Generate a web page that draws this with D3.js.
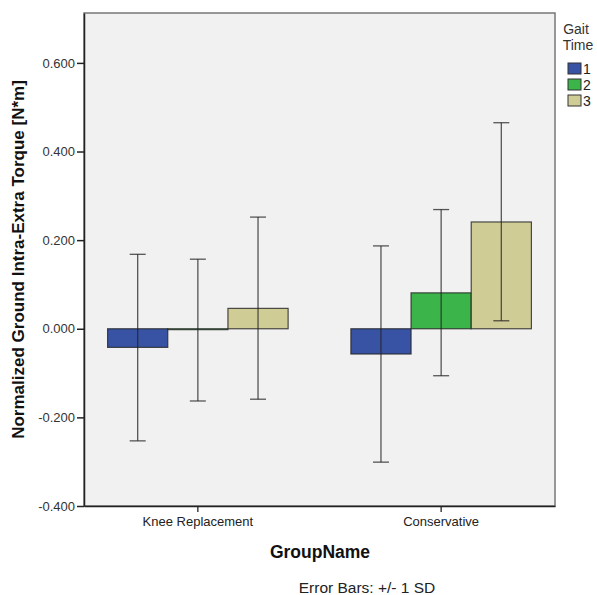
<!DOCTYPE html>
<html>
<head>
<meta charset="utf-8">
<script src="https://cdn.jsdelivr.net/npm/d3@7"></script>
<style>
  body { margin: 0; background: #fff; }
  text { font-family: "Liberation Sans", Arial, sans-serif; }
</style>
</head>
<body>
<div id="chart"></div>
<script>
const groups = ['Knee Replacement', 'Conservative'];
const times = ['1', '2', '3'];
const colors = ['#3953a4', '#3bb54a', '#d0cc96'];
// mean, lower, upper (+/- 1 SD) per group, per gait time
const means = [[-0.042, -0.002, 0.046], [-0.057, 0.081, 0.241]];
const lows = [[-0.253, -0.163, -0.159], [-0.301, -0.106, 0.018]];
const highs = [[0.168, 0.157, 0.252], [0.187, 0.269, 0.465]];
const yTicks = [-0.4, -0.2, 0, 0.2, 0.4, 0.6];

const W = 597, H = 595;
const margin = { left: 84, right: 42, top: 13, bottom: 89 };
const width = W - margin.left - margin.right;
const height = H - margin.top - margin.bottom;

const svg = d3.select('#chart').append('svg')
   .attr('width', W)
   .attr('height', H);

const g = svg.append('g')
   .attr('transform', `translate(${margin.left}, ${margin.top})`);

const x = d3.scaleBand()
   .domain(groups)
   .range([0, width])
   .paddingInner(0.258)
   .paddingOuter(0.097);

const xSub = d3.scaleBand()
   .domain(times)
   .range([0, x.bandwidth()]);

const y = d3.scaleLinear()
   .domain([-0.4, 0.7126])
   .range([height, 0]);

g.append('rect')
   .attr('width', width)
   .attr('height', height)
   .attr('fill', '#f0f1f0');

const rows = [];
groups.forEach((grp, gi) => times.forEach((t, ti) => rows.push({
   grp, t, ti, mean: means[gi][ti], lo: lows[gi][ti], hi: highs[gi][ti]
})));

g.selectAll('rect.bar')
   .data(rows)
   .enter().append('rect')
      .attr('class', 'bar')
      .attr('x', d => x(d.grp) + xSub(d.t))
      .attr('width', xSub.bandwidth())
      .attr('y', d => y(Math.max(0, d.mean)))
      .attr('height', d => Math.abs(y(d.mean) - y(0)))
      .attr('fill', d => colors[d.ti])
      .attr('stroke', '#222')
      .attr('stroke-opacity', 0.8)
      .attr('stroke-width', 1.2);

const err = g.selectAll('g.err')
   .data(rows)
   .enter().append('g')
      .attr('class', 'err')
      .attr('transform', d => `translate(${x(d.grp) + xSub(d.t) + xSub.bandwidth() / 2}, 0)`)
      .attr('stroke', '#222')
      .attr('stroke-opacity', 0.75)
      .attr('stroke-width', 1.3);

err.append('line')
   .attr('y1', d => y(d.lo))
   .attr('y2', d => y(d.hi));
err.append('line')
   .attr('x1', -8).attr('x2', 8)
   .attr('y1', d => y(d.hi)).attr('y2', d => y(d.hi));
err.append('line')
   .attr('x1', -8).attr('x2', 8)
   .attr('y1', d => y(d.lo)).attr('y2', d => y(d.lo));

// frame
g.append('rect')
   .attr('width', width)
   .attr('height', height)
   .attr('fill', 'none')
   .attr('stroke', '#777')
   .attr('stroke-width', 1.5);

const fmt = d => d3.format('.3f')(d).replace('\u2212', '-');

const yAxis = g.append('g')
   .call(d3.axisLeft(y).tickValues(yTicks).tickFormat(fmt)
      .tickSize(7).tickSizeOuter(0).tickPadding(2));
yAxis.select('.domain').attr('stroke', '#222').attr('stroke-width', 1.5);
yAxis.selectAll('.tick line').attr('stroke', '#222').attr('stroke-width', 1.5);
yAxis.selectAll('.tick text').attr('font-size', 13).attr('fill', '#333');

const xAxis = g.append('g')
   .attr('transform', `translate(0, ${height})`)
   .call(d3.axisBottom(x).tickSize(6).tickSizeOuter(0).tickPadding(5));
xAxis.select('.domain').attr('stroke', '#222').attr('stroke-width', 1.5);
xAxis.selectAll('.tick line').attr('stroke', '#222').attr('stroke-width', 1.3);
xAxis.selectAll('.tick text').attr('font-size', 13).attr('fill', '#222');

svg.append('text')
   .attr('transform', `translate(24, ${margin.top + height / 2}) rotate(-90)`)
   .attr('text-anchor', 'middle')
   .attr('font-size', 17)
   .attr('font-weight', 'bold')
   .attr('fill', '#111')
   .text('Normalized Ground Intra-Extra Torque [N*m]');

svg.append('text')
   .attr('x', 320)
   .attr('y', 558)
   .attr('text-anchor', 'middle')
   .attr('font-size', 17.5)
   .attr('font-weight', 'bold')
   .attr('fill', '#111')
   .text('GroupName');

svg.append('text')
   .attr('x', 367)
   .attr('y', 593)
   .attr('text-anchor', 'middle')
   .attr('font-size', 15.5)
   .attr('fill', '#222')
   .text('Error Bars: +/- 1 SD');

// legend
const legend = svg.append('g');
legend.append('text')
   .attr('x', 576).attr('y', 34)
   .attr('text-anchor', 'middle')
   .attr('font-size', 14).attr('fill', '#333')
   .text('Gait');
legend.append('text')
   .attr('x', 578).attr('y', 50)
   .attr('text-anchor', 'middle')
   .attr('font-size', 14).attr('fill', '#333')
   .text('Time');

const items = legend.selectAll('g.item')
   .data(times)
   .enter().append('g')
      .attr('class', 'item')
      .attr('transform', (d, i) => `translate(568, ${63 + i * 16})`);
items.append('rect')
   .attr('width', 13).attr('height', 11)
   .attr('fill', (d, i) => colors[i])
   .attr('stroke', '#333').attr('stroke-width', 1);
items.append('text')
   .attr('x', 15).attr('y', 11)
   .attr('font-size', 14).attr('fill', '#222')
   .text(d => d);
</script>
</body>
</html>
